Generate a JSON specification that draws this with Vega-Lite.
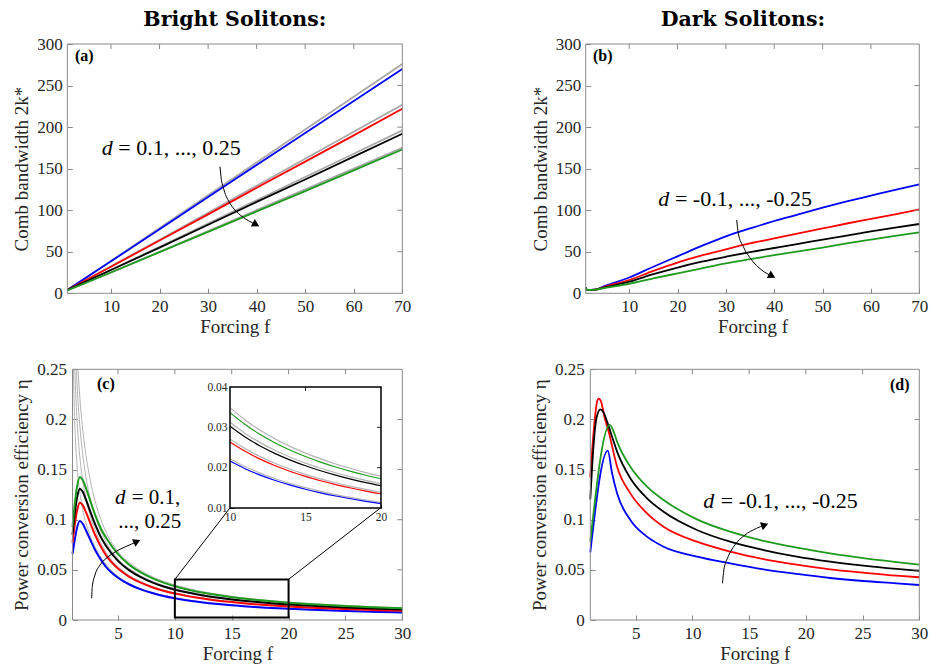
{
"$schema":"https://vega.github.io/schema/vega-lite/v6.json",
"width":931,"height":669,"autosize":"none","padding":0,"background":"white",
"config":{"view":{"stroke":null}},
"datasets":{
"a":[
{"s":"gb","f":1,"v":4},{"s":"gb","f":10,"v":39},{"s":"gb","f":20,"v":78.5},{"s":"gb","f":30,"v":118},{"s":"gb","f":40,"v":157.5},{"s":"gb","f":50,"v":197},{"s":"gb","f":60,"v":236.5},{"s":"gb","f":70,"v":276},
{"s":"gr","f":1,"v":4},{"s":"gr","f":10,"v":32.5},{"s":"gr","f":20,"v":64.5},{"s":"gr","f":30,"v":97},{"s":"gr","f":40,"v":129.5},{"s":"gr","f":50,"v":162},{"s":"gr","f":60,"v":194.5},{"s":"gr","f":70,"v":227},
{"s":"gk","f":1,"v":4},{"s":"gk","f":10,"v":28.3},{"s":"gk","f":20,"v":56},{"s":"gk","f":30,"v":84},{"s":"gk","f":40,"v":112},{"s":"gk","f":50,"v":140},{"s":"gk","f":60,"v":168},{"s":"gk","f":70,"v":196},
{"s":"gg","f":1,"v":3.5},{"s":"gg","f":10,"v":25.2},{"s":"gg","f":20,"v":50},{"s":"gg","f":30,"v":75},{"s":"gg","f":40,"v":100},{"s":"gg","f":50,"v":125},{"s":"gg","f":60,"v":150},{"s":"gg","f":70,"v":175},
{"s":"blue","f":1,"v":4},{"s":"blue","f":10,"v":38.5},{"s":"blue","f":20,"v":77},{"s":"blue","f":30,"v":116},{"s":"blue","f":40,"v":154.5},{"s":"blue","f":50,"v":193},{"s":"blue","f":60,"v":231.5},{"s":"blue","f":70,"v":270},
{"s":"red","f":1,"v":4},{"s":"red","f":10,"v":32},{"s":"red","f":20,"v":63.5},{"s":"red","f":30,"v":95},{"s":"red","f":40,"v":127},{"s":"red","f":50,"v":158.5},{"s":"red","f":60,"v":190},{"s":"red","f":70,"v":222},
{"s":"black","f":1,"v":4},{"s":"black","f":10,"v":28},{"s":"black","f":20,"v":55},{"s":"black","f":30,"v":82.5},{"s":"black","f":40,"v":110},{"s":"black","f":50,"v":137},{"s":"black","f":60,"v":164.5},{"s":"black","f":70,"v":192},
{"s":"green","f":1,"v":3.5},{"s":"green","f":10,"v":25},{"s":"green","f":20,"v":49.5},{"s":"green","f":30,"v":74},{"s":"green","f":40,"v":98.5},{"s":"green","f":50,"v":123},{"s":"green","f":60,"v":148},{"s":"green","f":70,"v":173}
],
"b":[
{"s":"blue","f":1,"v":7},{"s":"blue","f":1.3,"v":4},{"s":"blue","f":3,"v":4.5},{"s":"blue","f":5,"v":9},{"s":"blue","f":10,"v":19},{"s":"blue","f":15,"v":32},{"s":"blue","f":20,"v":44.5},{"s":"blue","f":25,"v":57},{"s":"blue","f":30,"v":68.6},{"s":"blue","f":35,"v":78},{"s":"blue","f":40,"v":87},{"s":"blue","f":45,"v":95},{"s":"blue","f":50,"v":103},{"s":"blue","f":55,"v":110.5},{"s":"blue","f":60,"v":117.5},{"s":"blue","f":65,"v":124.5},{"s":"blue","f":70,"v":131},
{"s":"red","f":1,"v":7},{"s":"red","f":1.3,"v":4},{"s":"red","f":3,"v":4.5},{"s":"red","f":5,"v":8},{"s":"red","f":10,"v":16},{"s":"red","f":15,"v":27},{"s":"red","f":20,"v":37},{"s":"red","f":25,"v":45.5},{"s":"red","f":30,"v":53},{"s":"red","f":35,"v":60},{"s":"red","f":40,"v":66},{"s":"red","f":45,"v":72},{"s":"red","f":50,"v":78},{"s":"red","f":55,"v":84},{"s":"red","f":60,"v":89.5},{"s":"red","f":65,"v":95},{"s":"red","f":70,"v":101},
{"s":"black","f":1,"v":7},{"s":"black","f":1.3,"v":4},{"s":"black","f":3,"v":4.5},{"s":"black","f":5,"v":7},{"s":"black","f":10,"v":14},{"s":"black","f":15,"v":23},{"s":"black","f":20,"v":31},{"s":"black","f":25,"v":38},{"s":"black","f":30,"v":44},{"s":"black","f":35,"v":49.5},{"s":"black","f":40,"v":54.5},{"s":"black","f":45,"v":59.5},{"s":"black","f":50,"v":64.6},{"s":"black","f":55,"v":69.5},{"s":"black","f":60,"v":74.6},{"s":"black","f":65,"v":79},{"s":"black","f":70,"v":83.4},
{"s":"green","f":1,"v":7},{"s":"green","f":1.3,"v":4},{"s":"green","f":3,"v":4.5},{"s":"green","f":5,"v":6.5},{"s":"green","f":10,"v":11.5},{"s":"green","f":15,"v":18},{"s":"green","f":20,"v":24},{"s":"green","f":25,"v":30},{"s":"green","f":30,"v":36},{"s":"green","f":35,"v":41},{"s":"green","f":40,"v":46},{"s":"green","f":45,"v":50.5},{"s":"green","f":50,"v":55},{"s":"green","f":55,"v":60},{"s":"green","f":60,"v":64.6},{"s":"green","f":65,"v":69},{"s":"green","f":70,"v":73.4}
],
"c":[
{"s":"gb","f":1.08,"v":0.25},{"s":"gb","f":1.15,"v":0.213},{"s":"gb","f":1.25,"v":0.182},{"s":"gb","f":1.4,"v":0.154},{"s":"gb","f":1.6,"v":0.131},{"s":"gb","f":1.8,"v":0.116},{"s":"gb","f":2,"v":0.105},{"s":"gb","f":2.5,"v":0.0855},{"s":"gb","f":3,"v":0.0726},{"s":"gb","f":4,"v":0.0547},{"s":"gb","f":5,"v":0.0436},{"s":"gb","f":6,"v":0.0365},{"s":"gb","f":7,"v":0.0314},{"s":"gb","f":8,"v":0.02757},{"s":"gb","f":9,"v":0.0246},{"s":"gb","f":10,"v":0.02223},{"s":"gb","f":11,"v":0.02028},{"s":"gb","f":12,"v":0.01865},{"s":"gb","f":13,"v":0.01726},{"s":"gb","f":14,"v":0.01608},{"s":"gb","f":15,"v":0.01504},{"s":"gb","f":16,"v":0.01413},{"s":"gb","f":17,"v":0.01333},{"s":"gb","f":18,"v":0.01262},{"s":"gb","f":19,"v":0.01198},{"s":"gb","f":20,"v":0.0114},{"s":"gb","f":22,"v":0.0104},{"s":"gb","f":25,"v":0.0092},{"s":"gb","f":28,"v":0.00824},{"s":"gb","f":30,"v":0.00771},
{"s":"gr","f":1.2,"v":0.25},{"s":"gr","f":1.3,"v":0.221},{"s":"gr","f":1.45,"v":0.19},{"s":"gr","f":1.6,"v":0.168},{"s":"gr","f":1.8,"v":0.147},{"s":"gr","f":2,"v":0.132},{"s":"gr","f":2.5,"v":0.106},{"s":"gr","f":3,"v":0.0895},{"s":"gr","f":4,"v":0.0666},{"s":"gr","f":5,"v":0.0532},{"s":"gr","f":6,"v":0.0444},{"s":"gr","f":7,"v":0.0383},{"s":"gr","f":8,"v":0.0336},{"s":"gr","f":9,"v":0.03},{"s":"gr","f":10,"v":0.0271},{"s":"gr","f":11,"v":0.02472},{"s":"gr","f":12,"v":0.02273},{"s":"gr","f":13,"v":0.02105},{"s":"gr","f":14,"v":0.0196},{"s":"gr","f":15,"v":0.01834},{"s":"gr","f":16,"v":0.01723},{"s":"gr","f":17,"v":0.01625},{"s":"gr","f":18,"v":0.01538},{"s":"gr","f":19,"v":0.0146},{"s":"gr","f":20,"v":0.0139},{"s":"gr","f":22,"v":0.01268},{"s":"gr","f":25,"v":0.01121},{"s":"gr","f":28,"v":0.01005},{"s":"gr","f":30,"v":0.0094},
{"s":"gk","f":1.33,"v":0.25},{"s":"gk","f":1.45,"v":0.225},{"s":"gk","f":1.6,"v":0.2},{"s":"gk","f":1.8,"v":0.175},{"s":"gk","f":2,"v":0.156},{"s":"gk","f":2.5,"v":0.124},{"s":"gk","f":3,"v":0.1035},{"s":"gk","f":4,"v":0.0768},{"s":"gk","f":5,"v":0.0609},{"s":"gk","f":6,"v":0.0511},{"s":"gk","f":7,"v":0.0441},{"s":"gk","f":8,"v":0.03873},{"s":"gk","f":9,"v":0.03458},{"s":"gk","f":10,"v":0.03124},{"s":"gk","f":11,"v":0.0285},{"s":"gk","f":12,"v":0.02621},{"s":"gk","f":13,"v":0.02426},{"s":"gk","f":14,"v":0.02259},{"s":"gk","f":15,"v":0.02114},{"s":"gk","f":16,"v":0.01986},{"s":"gk","f":17,"v":0.01873},{"s":"gk","f":18,"v":0.01773},{"s":"gk","f":19,"v":0.01683},{"s":"gk","f":20,"v":0.016},{"s":"gk","f":22,"v":0.01461},{"s":"gk","f":25,"v":0.01292},{"s":"gk","f":28,"v":0.01158},{"s":"gk","f":30,"v":0.01084},
{"s":"gg","f":1.48,"v":0.25},{"s":"gg","f":1.6,"v":0.229},{"s":"gg","f":1.8,"v":0.201},{"s":"gg","f":2,"v":0.18},{"s":"gg","f":2.5,"v":0.143},{"s":"gg","f":3,"v":0.118},{"s":"gg","f":4,"v":0.0865},{"s":"gg","f":5,"v":0.068},{"s":"gg","f":6,"v":0.0571},{"s":"gg","f":7,"v":0.0492},{"s":"gg","f":8,"v":0.04325},{"s":"gg","f":9,"v":0.0386},{"s":"gg","f":10,"v":0.03488},{"s":"gg","f":11,"v":0.03182},{"s":"gg","f":12,"v":0.02926},{"s":"gg","f":13,"v":0.02709},{"s":"gg","f":14,"v":0.02522},{"s":"gg","f":15,"v":0.0236},{"s":"gg","f":16,"v":0.02218},{"s":"gg","f":17,"v":0.02092},{"s":"gg","f":18,"v":0.0198},{"s":"gg","f":19,"v":0.01879},{"s":"gg","f":20,"v":0.01789},{"s":"gg","f":22,"v":0.01632},{"s":"gg","f":25,"v":0.01443},{"s":"gg","f":28,"v":0.01293},{"s":"gg","f":30,"v":0.0121},
{"s":"blue","f":1,"v":0.0658},{"s":"blue","f":1.2,"v":0.08},{"s":"blue","f":1.4,"v":0.092},{"s":"blue","f":1.65,"v":0.0987},{"s":"blue","f":1.9,"v":0.096},{"s":"blue","f":2.2,"v":0.089},{"s":"blue","f":2.6,"v":0.079},{"s":"blue","f":3,"v":0.0695},{"s":"blue","f":3.5,"v":0.06},{"s":"blue","f":4,"v":0.0523},{"s":"blue","f":5,"v":0.0422},{"s":"blue","f":6,"v":0.0354},{"s":"blue","f":7,"v":0.0305},{"s":"blue","f":8,"v":0.02684},{"s":"blue","f":9,"v":0.02396},{"s":"blue","f":10,"v":0.02165},{"s":"blue","f":11,"v":0.01975},{"s":"blue","f":12,"v":0.01816},{"s":"blue","f":13,"v":0.01681},{"s":"blue","f":14,"v":0.01566},{"s":"blue","f":15,"v":0.01465},{"s":"blue","f":16,"v":0.01377},{"s":"blue","f":17,"v":0.01298},{"s":"blue","f":18,"v":0.01229},{"s":"blue","f":19,"v":0.01166},{"s":"blue","f":20,"v":0.0111},{"s":"blue","f":22,"v":0.01013},{"s":"blue","f":25,"v":0.00895},{"s":"blue","f":28,"v":0.00803},{"s":"blue","f":30,"v":0.00751},
{"s":"red","f":1,"v":0.077},{"s":"red","f":1.2,"v":0.095},{"s":"red","f":1.4,"v":0.109},{"s":"red","f":1.65,"v":0.117},{"s":"red","f":1.9,"v":0.1145},{"s":"red","f":2.2,"v":0.107},{"s":"red","f":2.6,"v":0.0955},{"s":"red","f":3,"v":0.0845},{"s":"red","f":3.5,"v":0.073},{"s":"red","f":4,"v":0.0637},{"s":"red","f":5,"v":0.0514},{"s":"red","f":6,"v":0.0431},{"s":"red","f":7,"v":0.0372},{"s":"red","f":8,"v":0.03268},{"s":"red","f":9,"v":0.02918},{"s":"red","f":10,"v":0.02636},{"s":"red","f":11,"v":0.02405},{"s":"red","f":12,"v":0.02211},{"s":"red","f":13,"v":0.02047},{"s":"red","f":14,"v":0.01906},{"s":"red","f":15,"v":0.01784},{"s":"red","f":16,"v":0.01676},{"s":"red","f":17,"v":0.01581},{"s":"red","f":18,"v":0.01496},{"s":"red","f":19,"v":0.0142},{"s":"red","f":20,"v":0.01352},{"s":"red","f":22,"v":0.01233},{"s":"red","f":25,"v":0.0109},{"s":"red","f":28,"v":0.00977},{"s":"red","f":30,"v":0.00915},
{"s":"black","f":1,"v":0.085},{"s":"black","f":1.2,"v":0.106},{"s":"black","f":1.4,"v":0.122},{"s":"black","f":1.65,"v":0.131},{"s":"black","f":1.9,"v":0.128},{"s":"black","f":2.2,"v":0.1195},{"s":"black","f":2.6,"v":0.107},{"s":"black","f":3,"v":0.095},{"s":"black","f":3.5,"v":0.0825},{"s":"black","f":4,"v":0.0731},{"s":"black","f":5,"v":0.059},{"s":"black","f":6,"v":0.0495},{"s":"black","f":7,"v":0.0427},{"s":"black","f":8,"v":0.03751},{"s":"black","f":9,"v":0.03348},{"s":"black","f":10,"v":0.03025},{"s":"black","f":11,"v":0.0276},{"s":"black","f":12,"v":0.02538},{"s":"black","f":13,"v":0.02349},{"s":"black","f":14,"v":0.02188},{"s":"black","f":15,"v":0.02047},{"s":"black","f":16,"v":0.01923},{"s":"black","f":17,"v":0.01814},{"s":"black","f":18,"v":0.01717},{"s":"black","f":19,"v":0.0163},{"s":"black","f":20,"v":0.01551},{"s":"black","f":22,"v":0.01415},{"s":"black","f":25,"v":0.01251},{"s":"black","f":28,"v":0.01122},{"s":"black","f":30,"v":0.0105},
{"s":"green","f":1,"v":0.093},{"s":"green","f":1.2,"v":0.116},{"s":"green","f":1.4,"v":0.133},{"s":"green","f":1.65,"v":0.1425},{"s":"green","f":1.9,"v":0.1395},{"s":"green","f":2.2,"v":0.131},{"s":"green","f":2.6,"v":0.1175},{"s":"green","f":3,"v":0.1045},{"s":"green","f":3.5,"v":0.091},{"s":"green","f":4,"v":0.0813},{"s":"green","f":5,"v":0.0656},{"s":"green","f":6,"v":0.055},{"s":"green","f":7,"v":0.0474},{"s":"green","f":8,"v":0.04171},{"s":"green","f":9,"v":0.03723},{"s":"green","f":10,"v":0.03364},{"s":"green","f":11,"v":0.03069},{"s":"green","f":12,"v":0.02822},{"s":"green","f":13,"v":0.02612},{"s":"green","f":14,"v":0.02433},{"s":"green","f":15,"v":0.02276},{"s":"green","f":16,"v":0.02139},{"s":"green","f":17,"v":0.02017},{"s":"green","f":18,"v":0.01909},{"s":"green","f":19,"v":0.01813},{"s":"green","f":20,"v":0.01725},{"s":"green","f":22,"v":0.01574},{"s":"green","f":25,"v":0.01391},{"s":"green","f":28,"v":0.01247},{"s":"green","f":30,"v":0.01167}
],
"d":[
{"s":"blue","f":1,"v":0.0675},{"s":"blue","f":2.54,"v":0.1689},{"s":"blue","f":2.92,"v":0.1463},{"s":"blue","f":3.36,"v":0.1263},{"s":"blue","f":4.53,"v":0.0997},{"s":"blue","f":6,"v":0.0831},{"s":"blue","f":7.46,"v":0.0731},{"s":"blue","f":10.4,"v":0.0632},{"s":"blue","f":13.33,"v":0.0565},{"s":"blue","f":16.27,"v":0.0505},{"s":"blue","f":19.2,"v":0.0459},{"s":"blue","f":22.14,"v":0.0419},{"s":"blue","f":25.07,"v":0.0389},{"s":"blue","f":28,"v":0.0366},{"s":"blue","f":30,"v":0.0349},
{"s":"red","f":1,"v":0.1423},{"s":"red","f":1.39,"v":0.1995},{"s":"red","f":1.6,"v":0.2178},{"s":"red","f":1.74,"v":0.2207},{"s":"red","f":1.95,"v":0.2178},{"s":"red","f":2.24,"v":0.2028},{"s":"red","f":2.62,"v":0.1878},{"s":"red","f":3.36,"v":0.1529},{"s":"red","f":4.53,"v":0.1263},{"s":"red","f":6,"v":0.1064},{"s":"red","f":7.46,"v":0.0931},{"s":"red","f":10.4,"v":0.0781},{"s":"red","f":13.33,"v":0.0682},{"s":"red","f":16.27,"v":0.0608},{"s":"red","f":19.2,"v":0.0552},{"s":"red","f":22.14,"v":0.0505},{"s":"red","f":25.07,"v":0.0472},{"s":"red","f":28,"v":0.0442},{"s":"red","f":30,"v":0.0426},
{"s":"black","f":1,"v":0.1203},{"s":"black","f":1.3,"v":0.1762},{"s":"black","f":1.54,"v":0.2011},{"s":"black","f":1.89,"v":0.2101},{"s":"black","f":2.12,"v":0.2078},{"s":"black","f":2.48,"v":0.1978},{"s":"black","f":2.92,"v":0.1828},{"s":"black","f":3.36,"v":0.1679},{"s":"black","f":4.53,"v":0.1413},{"s":"black","f":6,"v":0.1213},{"s":"black","f":7.46,"v":0.108},{"s":"black","f":10.4,"v":0.0898},{"s":"black","f":13.33,"v":0.0781},{"s":"black","f":16.27,"v":0.0698},{"s":"black","f":19.2,"v":0.0632},{"s":"black","f":22.14,"v":0.0582},{"s":"black","f":25.07,"v":0.0542},{"s":"black","f":28,"v":0.0509},{"s":"black","f":30,"v":0.0489},
{"s":"green","f":1,"v":0.0781},{"s":"green","f":2.71,"v":0.1945},{"s":"green","f":3.06,"v":0.1878},{"s":"green","f":3.36,"v":0.1779},{"s":"green","f":4.53,"v":0.1529},{"s":"green","f":6,"v":0.133},{"s":"green","f":7.46,"v":0.1197},{"s":"green","f":10.4,"v":0.1004},{"s":"green","f":13.33,"v":0.0881},{"s":"green","f":16.27,"v":0.0788},{"s":"green","f":19.2,"v":0.0721},{"s":"green","f":22.14,"v":0.0665},{"s":"green","f":25.07,"v":0.0618},{"s":"green","f":28,"v":0.0578},{"s":"green","f":30,"v":0.0552}
],
"tk70":[{"f":10,"v":300,"e":"t"},{"f":20,"v":300,"e":"t"},{"f":30,"v":300,"e":"t"},{"f":40,"v":300,"e":"t"},{"f":50,"v":300,"e":"t"},{"f":60,"v":300,"e":"t"},{"f":70,"v":50,"e":"r"},{"f":70,"v":100,"e":"r"},{"f":70,"v":150,"e":"r"},{"f":70,"v":200,"e":"r"},{"f":70,"v":250,"e":"r"}],
"tk30":[{"f":5,"v":0.25,"e":"t"},{"f":10,"v":0.25,"e":"t"},{"f":15,"v":0.25,"e":"t"},{"f":20,"v":0.25,"e":"t"},{"f":25,"v":0.25,"e":"t"},{"f":30,"v":0.05,"e":"r"},{"f":30,"v":0.1,"e":"r"},{"f":30,"v":0.15,"e":"r"},{"f":30,"v":0.2,"e":"r"}]
},
"resolve":{"scale":{"x":"independent","y":"independent"}},
"layer":[
{
"data":{"name":"a"},
"encoding":{
"x":{"field":"f","type":"quantitative","scale":{"domain":[1,70],"range":[67.3,402.3],"nice":false,"zero":false},"axis":{"orient":"bottom","offset":-375.7,"values":[10,20,30,40,50,60,70],"title":"Forcing f","grid":false,"domain":false,"tickColor":"#8a8a8a","tickSize":-5,"labelFont":"Liberation Serif","labelFontSize":17,"labelColor":"#262626","labelPadding":10,"labelOverlap":false,"labelFlush":false,"titleFont":"Liberation Serif","titleFontSize":19,"titleFontWeight":"normal","titleColor":"#262626","titlePadding":3}},
"y":{"field":"v","type":"quantitative","scale":{"domain":[0,300],"range":[293.3,44],"nice":false,"zero":false},"axis":{"orient":"left","offset":-67.3,"values":[0,50,100,150,200,250,300],"title":"Comb bandwidth 2k*","grid":false,"domain":false,"tickColor":"#8a8a8a","tickSize":-5,"labelFont":"Liberation Serif","labelFontSize":17,"labelColor":"#262626","labelPadding":10,"labelOverlap":false,"labelFlush":false,"titleFont":"Liberation Serif","titleFontSize":19,"titleFontWeight":"normal","titleColor":"#262626","titlePadding":5}}
},
"layer":[
{"transform":[{"filter":{"field":"s","oneOf":["gb","gr","gk","gg"]}}],"mark":{"type":"line","color":"#a8a8a8","strokeWidth":1.8},"encoding":{"detail":{"field":"s"}}},
{"transform":[{"filter":{"field":"s","oneOf":["blue","red","black","green"]}}],"mark":{"type":"line","strokeWidth":1.8},"encoding":{"color":{"field":"s","type":"nominal","scale":{"domain":["blue","red","black","green"],"range":["#0000ff","#ff0000","#000000","#1f9a1f"]},"legend":null}}},
{"data":{"values":[{"f":1,"f2":70,"v":0,"v2":300}]},"mark":{"type":"rect","fill":"transparent","stroke":"#8a8a8a","strokeWidth":1},"encoding":{"x2":{"field":"f2"},"y2":{"field":"v2"}}},
{"data":{"name":"tk70"},"transform":[{"filter":"datum.e == 't'"}],"mark":{"type":"point","shape":"M0,0V1","filled":false,"stroke":"#8a8a8a","strokeWidth":1,"opacity":1,"size":100}},
{"data":{"name":"tk70"},"transform":[{"filter":"datum.e == 'r'"}],"mark":{"type":"point","shape":"M0,0H-1","filled":false,"stroke":"#8a8a8a","strokeWidth":1,"opacity":1,"size":100}},
{"data":{"values":[{"f":32.45,"v":152.35,"o":1},{"f":32.66,"v":140.3,"o":2},{"f":33.28,"v":124.3,"o":3},{"f":34.51,"v":108.3,"o":4},{"f":36.22,"v":96.3,"o":5},{"f":38.28,"v":87.4,"o":6},{"f":39.87,"v":82.8,"o":7}]},"mark":{"type":"line","color":"black","strokeWidth":1,"interpolate":"monotone"},"encoding":{"order":{"field":"o","type":"quantitative"}}},
{"data":{"values":[{"f":39.87,"v":82.8}]},"mark":{"type":"point","shape":"triangle-right","filled":true,"color":"black","opacity":1,"size":70,"angle":28}},
{"data":{"values":[{"f":8.09,"v":166.4,"t":"d"}]},"mark":{"type":"text","font":"Liberation Serif","fontStyle":"italic","fontSize":22,"align":"left","baseline":"alphabetic","color":"black"},"encoding":{"text":{"field":"t"}}},
{"data":{"values":[{"f":11.5,"v":166.4,"t":"= 0.1, ..., 0.25"}]},"mark":{"type":"text","font":"Liberation Serif","fontSize":22,"align":"left","baseline":"alphabetic","color":"black"},"encoding":{"text":{"field":"t"}}},
{"data":{"values":[{"f":2.59,"v":279.5,"t":"(a)"}]},"mark":{"type":"text","font":"Liberation Serif","fontWeight":"bold","fontSize":16,"align":"left","baseline":"alphabetic","color":"black"},"encoding":{"text":{"field":"t"}}},
{"data":{"values":[{"f":35.5,"v":321.7,"t":"Bright Solitons:"}]},"mark":{"type":"text","font":"DejaVu Serif","fontWeight":"bold","fontSize":20.5,"align":"center","baseline":"alphabetic","color":"black"},"encoding":{"text":{"field":"t"}}}
]
},
{
"data":{"name":"b"},
"encoding":{
"x":{"field":"f","type":"quantitative","scale":{"domain":[1,70],"range":[585.7,919.3],"nice":false,"zero":false},"axis":{"orient":"bottom","offset":-375.7,"values":[10,20,30,40,50,60,70],"title":"Forcing f","grid":false,"domain":false,"tickColor":"#8a8a8a","tickSize":-5,"labelFont":"Liberation Serif","labelFontSize":17,"labelColor":"#262626","labelPadding":10,"labelOverlap":false,"labelFlush":false,"titleFont":"Liberation Serif","titleFontSize":19,"titleFontWeight":"normal","titleColor":"#262626","titlePadding":3}},
"y":{"field":"v","type":"quantitative","scale":{"domain":[0,300],"range":[293.3,44],"nice":false,"zero":false},"axis":{"orient":"left","offset":-585.7,"values":[0,50,100,150,200,250,300],"title":"Comb bandwidth 2k*","grid":false,"domain":false,"tickColor":"#8a8a8a","tickSize":-5,"labelFont":"Liberation Serif","labelFontSize":17,"labelColor":"#262626","labelPadding":10,"labelOverlap":false,"labelFlush":false,"titleFont":"Liberation Serif","titleFontSize":19,"titleFontWeight":"normal","titleColor":"#262626","titlePadding":5}}
},
"layer":[
{"mark":{"type":"line","strokeWidth":1.8,"interpolate":"monotone"},"encoding":{"color":{"field":"s","type":"nominal","scale":{"domain":["blue","red","black","green"],"range":["#0000ff","#ff0000","#000000","#1f9a1f"]},"legend":null}}},
{"data":{"values":[{"f":1,"f2":70,"v":0,"v2":300}]},"mark":{"type":"rect","fill":"transparent","stroke":"#8a8a8a","strokeWidth":1},"encoding":{"x2":{"field":"f2"},"y2":{"field":"v2"}}},
{"data":{"name":"tk70"},"transform":[{"filter":"datum.e == 't'"}],"mark":{"type":"point","shape":"M0,0V1","filled":false,"stroke":"#8a8a8a","strokeWidth":1,"opacity":1,"size":100}},
{"data":{"name":"tk70"},"transform":[{"filter":"datum.e == 'r'"}],"mark":{"type":"point","shape":"M0,0H-1","filled":false,"stroke":"#8a8a8a","strokeWidth":1,"opacity":1,"size":100}},
{"data":{"values":[{"f":32.23,"v":88.2,"o":1},{"f":32.56,"v":72.2,"o":2},{"f":33.6,"v":56.1,"o":3},{"f":35.33,"v":40.1,"o":4},{"f":37.4,"v":28,"o":5},{"f":39.53,"v":20.8,"o":6}]},"mark":{"type":"line","color":"black","strokeWidth":1,"interpolate":"monotone"},"encoding":{"order":{"field":"o","type":"quantitative"}}},
{"data":{"values":[{"f":39.53,"v":20.8}]},"mark":{"type":"point","shape":"triangle-right","filled":true,"color":"black","opacity":1,"size":70,"angle":28}},
{"data":{"values":[{"f":16.02,"v":105.1,"t":"d"}]},"mark":{"type":"text","font":"Liberation Serif","fontStyle":"italic","fontSize":22,"align":"left","baseline":"alphabetic","color":"black"},"encoding":{"text":{"field":"t"}}},
{"data":{"values":[{"f":19.45,"v":105.1,"t":"= -0.1, ..., -0.25"}]},"mark":{"type":"text","font":"Liberation Serif","fontSize":22,"align":"left","baseline":"alphabetic","color":"black"},"encoding":{"text":{"field":"t"}}},
{"data":{"values":[{"f":2.51,"v":279.5,"t":"(b)"}]},"mark":{"type":"text","font":"Liberation Serif","fontWeight":"bold","fontSize":16,"align":"left","baseline":"alphabetic","color":"black"},"encoding":{"text":{"field":"t"}}},
{"data":{"values":[{"f":33.5,"v":321.7,"t":"Dark Solitons:"}]},"mark":{"type":"text","font":"DejaVu Serif","fontWeight":"bold","fontSize":20.5,"align":"center","baseline":"alphabetic","color":"black"},"encoding":{"text":{"field":"t"}}}
]
},
{
"data":{"name":"c"},
"encoding":{
"x":{"field":"f","type":"quantitative","scale":{"domain":[1,30],"range":[72.5,402.3],"nice":false,"zero":false},"axis":{"orient":"bottom","offset":-49,"values":[5,10,15,20,25,30],"title":"Forcing f","grid":false,"domain":false,"tickColor":"#8a8a8a","tickSize":-5,"labelFont":"Liberation Serif","labelFontSize":17,"labelColor":"#262626","labelPadding":10,"labelOverlap":false,"labelFlush":false,"titleFont":"Liberation Serif","titleFontSize":19,"titleFontWeight":"normal","titleColor":"#262626","titlePadding":3}},
"y":{"field":"v","type":"quantitative","scale":{"domain":[0,0.25],"range":[620,369.3],"nice":false,"zero":false},"axis":{"orient":"left","offset":-72.5,"values":[0,0.05,0.1,0.15,0.2,0.25],"format":"~g","title":"Power conversion efficiency η","grid":false,"domain":false,"tickColor":"#8a8a8a","tickSize":-5,"labelFont":"Liberation Serif","labelFontSize":17,"labelColor":"#262626","labelPadding":11,"labelOverlap":false,"labelFlush":false,"titleFont":"Liberation Serif","titleFontSize":19,"titleFontWeight":"normal","titleColor":"#262626","titlePadding":5}}
},
"layer":[
{"transform":[{"filter":{"field":"s","oneOf":["gb","gr","gk","gg"]}}],"mark":{"type":"line","color":"#b4b4b4","strokeWidth":1,"interpolate":"monotone"},"encoding":{"detail":{"field":"s"}}},
{"transform":[{"filter":{"field":"s","oneOf":["blue","red","black","green"]}}],"mark":{"type":"line","strokeWidth":2,"interpolate":"monotone"},"encoding":{"color":{"field":"s","type":"nominal","scale":{"domain":["blue","red","black","green"],"range":["#0000ff","#ff0000","#000000","#1f9a1f"]},"legend":null}}},
{"data":{"values":[{"f":1,"f2":30,"v":0,"v2":0.25}]},"mark":{"type":"rect","fill":"transparent","stroke":"#8a8a8a","strokeWidth":1},"encoding":{"x2":{"field":"f2"},"y2":{"field":"v2"}}},
{"data":{"name":"tk30"},"transform":[{"filter":"datum.e == 't'"}],"mark":{"type":"point","shape":"M0,0V1","filled":false,"stroke":"#8a8a8a","strokeWidth":1,"opacity":1,"size":100}},
{"data":{"name":"tk30"},"transform":[{"filter":"datum.e == 'r'"}],"mark":{"type":"point","shape":"M0,0H-1","filled":false,"stroke":"#8a8a8a","strokeWidth":1,"opacity":1,"size":100}},
{"data":{"values":[{"f":10,"f2":20,"v":0.0025,"v2":0.0405}]},"mark":{"type":"rect","fill":"transparent","stroke":"black","strokeWidth":2},"encoding":{"x2":{"field":"f2"},"y2":{"field":"v2"}}},
{"data":{"values":[{"f":10,"v":0.0405,"f2":14.84,"v2":0.1117},{"f":20,"v":0.0405,"f2":28.11,"v2":0.112}]},"mark":{"type":"rule","color":"black","strokeWidth":1},"encoding":{"x2":{"field":"f2"},"y2":{"field":"v2"}}},
{"data":{"values":[{"f":2.687,"v":0.02163,"o":1},{"f":2.74,"v":0.0332,"o":2},{"f":2.977,"v":0.04487,"o":3},{"f":3.417,"v":0.05484,"o":4},{"f":4.146,"v":0.06311,"o":5},{"f":5.174,"v":0.07049,"o":6},{"f":6.202,"v":0.07577,"o":7},{"f":6.67,"v":0.0783,"o":8}]},"mark":{"type":"line","color":"black","strokeWidth":1,"interpolate":"monotone"},"encoding":{"order":{"field":"o","type":"quantitative"}}},
{"data":{"values":[{"f":6.67,"v":0.0783}]},"mark":{"type":"point","shape":"triangle-right","filled":true,"color":"black","opacity":1,"size":70,"angle":-25}},
{"data":{"values":[{"f":4.73,"v":0.1157,"t":"d"}]},"mark":{"type":"text","font":"Liberation Serif","fontStyle":"italic","fontSize":21,"align":"left","baseline":"alphabetic","color":"black"},"encoding":{"text":{"field":"t"}}},
{"data":{"values":[{"f":6.2,"v":0.1157,"t":"= 0.1,"},{"f":5.02,"v":0.0915,"t":"..., 0.25"}]},"mark":{"type":"text","font":"Liberation Serif","fontSize":21,"align":"left","baseline":"alphabetic","color":"black"},"encoding":{"text":{"field":"t"}}},
{"data":{"values":[{"f":3.15,"v":0.2303,"t":"(c)"}]},"mark":{"type":"text","font":"Liberation Serif","fontWeight":"bold","fontSize":16,"align":"left","baseline":"alphabetic","color":"black"},"encoding":{"text":{"field":"t"}}}
]
},
{
"data":{"name":"c"},
"transform":[{"filter":"datum.f >= 10 && datum.f <= 20"}],
"encoding":{
"x":{"field":"f","type":"quantitative","scale":{"domain":[10,20],"range":[230,381],"nice":false,"zero":false},"axis":{"orient":"bottom","offset":-161,"values":[10,15,20],"title":null,"grid":false,"domain":false,"labelFont":"Liberation Serif","labelFontSize":11.5,"labelColor":"#262626","tickSize":-4,"labelPadding":7,"tickColor":"#262626","labelOverlap":false,"labelFlush":false}},
"y":{"field":"v","type":"quantitative","scale":{"domain":[0.01,0.04],"range":[508,387],"nice":false,"zero":false},"axis":{"orient":"left","offset":-230,"values":[0.01,0.02,0.03,0.04],"format":"~g","title":null,"grid":false,"domain":false,"labelFont":"Liberation Serif","labelFontSize":11.5,"labelColor":"#262626","tickSize":-4,"labelPadding":7,"tickColor":"#262626","labelOverlap":false,"labelFlush":false}}
},
"layer":[
{"data":{"values":[{"f":10,"f2":20,"v":0.01,"v2":0.04}]},"mark":{"type":"rect","fill":"white"},"encoding":{"x2":{"field":"f2"},"y2":{"field":"v2"}}},
{"transform":[{"filter":{"field":"s","oneOf":["gb","gr","gk","gg"]}}],"mark":{"type":"line","color":"#b4b4b4","strokeWidth":1.2,"interpolate":"monotone"},"encoding":{"detail":{"field":"s"}}},
{"transform":[{"filter":{"field":"s","oneOf":["blue","red","black","green"]}}],"mark":{"type":"line","strokeWidth":1.2,"interpolate":"monotone"},"encoding":{"color":{"field":"s","type":"nominal","scale":{"domain":["blue","red","black","green"],"range":["#0000ff","#ff0000","#000000","#1f9a1f"]},"legend":null}}},
{"data":{"values":[{"f":15,"v":0.04,"e":"t"},{"f":20,"v":0.02,"e":"r"},{"f":20,"v":0.03,"e":"r"}]},"transform":[{"filter":"datum.e == 't'"}],"mark":{"type":"point","shape":"M0,0V1","filled":false,"stroke":"#262626","strokeWidth":1,"opacity":1,"size":64}},
{"data":{"values":[{"f":15,"v":0.04,"e":"t"},{"f":20,"v":0.02,"e":"r"},{"f":20,"v":0.03,"e":"r"}]},"transform":[{"filter":"datum.e == 'r'"}],"mark":{"type":"point","shape":"M0,0H-1","filled":false,"stroke":"#262626","strokeWidth":1,"opacity":1,"size":64}},
{"data":{"values":[{"f":10,"f2":20,"v":0.01,"v2":0.04}]},"mark":{"type":"rect","fill":"transparent","stroke":"black","strokeWidth":1.5},"encoding":{"x2":{"field":"f2"},"y2":{"field":"v2"}}}
]
},
{
"data":{"name":"d"},
"encoding":{
"x":{"field":"f","type":"quantitative","scale":{"domain":[1,30],"range":[590.3,919.3],"nice":false,"zero":false},"axis":{"orient":"bottom","offset":-49,"values":[5,10,15,20,25,30],"title":"Forcing f","grid":false,"domain":false,"tickColor":"#8a8a8a","tickSize":-5,"labelFont":"Liberation Serif","labelFontSize":17,"labelColor":"#262626","labelPadding":10,"labelOverlap":false,"labelFlush":false,"titleFont":"Liberation Serif","titleFontSize":19,"titleFontWeight":"normal","titleColor":"#262626","titlePadding":3}},
"y":{"field":"v","type":"quantitative","scale":{"domain":[0,0.25],"range":[620,369.3],"nice":false,"zero":false},"axis":{"orient":"left","offset":-590.3,"values":[0,0.05,0.1,0.15,0.2,0.25],"format":"~g","title":"Power conversion efficiency η","grid":false,"domain":false,"tickColor":"#8a8a8a","tickSize":-5,"labelFont":"Liberation Serif","labelFontSize":17,"labelColor":"#262626","labelPadding":11,"labelOverlap":false,"labelFlush":false,"titleFont":"Liberation Serif","titleFontSize":19,"titleFontWeight":"normal","titleColor":"#262626","titlePadding":5}}
},
"layer":[
{"mark":{"type":"line","strokeWidth":1.8,"interpolate":"monotone"},"encoding":{"color":{"field":"s","type":"nominal","scale":{"domain":["blue","red","black","green"],"range":["#0000ff","#ff0000","#000000","#1f9a1f"]},"legend":null}}},
{"data":{"values":[{"f":1,"f2":30,"v":0,"v2":0.25}]},"mark":{"type":"rect","fill":"transparent","stroke":"#8a8a8a","strokeWidth":1},"encoding":{"x2":{"field":"f2"},"y2":{"field":"v2"}}},
{"data":{"name":"tk30"},"transform":[{"filter":"datum.e == 't'"}],"mark":{"type":"point","shape":"M0,0V1","filled":false,"stroke":"#8a8a8a","strokeWidth":1,"opacity":1,"size":100}},
{"data":{"name":"tk30"},"transform":[{"filter":"datum.e == 'r'"}],"mark":{"type":"point","shape":"M0,0H-1","filled":false,"stroke":"#8a8a8a","strokeWidth":1,"opacity":1,"size":100}},
{"data":{"values":[{"f":12.655,"v":0.0366,"o":1},{"f":12.77,"v":0.04985,"o":2},{"f":13.15,"v":0.0631,"o":3},{"f":13.74,"v":0.0748,"o":4},{"f":14.62,"v":0.0847,"o":5},{"f":15.65,"v":0.0914,"o":6},{"f":16.38,"v":0.0947,"o":7}]},"mark":{"type":"line","color":"black","strokeWidth":1,"interpolate":"monotone"},"encoding":{"order":{"field":"o","type":"quantitative"}}},
{"data":{"values":[{"f":16.38,"v":0.0947}]},"mark":{"type":"point","shape":"triangle-right","filled":true,"color":"black","opacity":1,"size":70,"angle":-20}},
{"data":{"values":[{"f":10.95,"v":0.1114,"t":"d"}]},"mark":{"type":"text","font":"Liberation Serif","fontStyle":"italic","fontSize":22,"align":"left","baseline":"alphabetic","color":"black"},"encoding":{"text":{"field":"t"}}},
{"data":{"values":[{"f":12.5,"v":0.1114,"t":"= -0.1, ..., -0.25"}]},"mark":{"type":"text","font":"Liberation Serif","fontSize":22,"align":"left","baseline":"alphabetic","color":"black"},"encoding":{"text":{"field":"t"}}},
{"data":{"values":[{"f":29.14,"v":0.2293,"t":"(d)"}]},"mark":{"type":"text","font":"Liberation Serif","fontWeight":"bold","fontSize":16,"align":"right","baseline":"alphabetic","color":"black"},"encoding":{"text":{"field":"t"}}}
]
}
]
}
